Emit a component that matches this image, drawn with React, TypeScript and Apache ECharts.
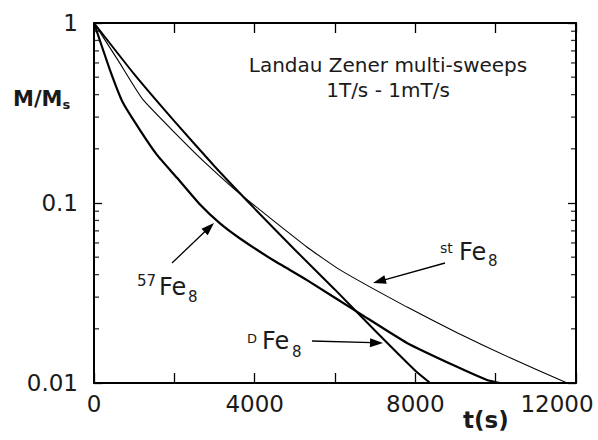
import React, { useEffect, useRef } from "react";
import * as echarts from "echarts";

// ---- data ----
const dTimes = [0, 1000, 2000, 3000, 4000, 5000, 6000, 7000, 8000, 8370];
const dValues = [1, 0.52, 0.285, 0.16, 0.093, 0.055, 0.033, 0.0195, 0.0117, 0.01];

const stTimes = [0, 600, 1220, 2640, 3560, 5300, 6125, 7795, 9040, 10360, 11780];
const stValues = [1, 0.62, 0.375, 0.178, 0.116, 0.057, 0.0425, 0.0264, 0.019, 0.0138, 0.01];

const fe57Times = [0, 398, 722, 1145, 1568, 2066, 2639, 3137, 3635, 4456, 5303, 6672, 7792, 9037, 9784, 10108];
const fe57Values = [1, 0.548, 0.36, 0.254, 0.185, 0.138, 0.098, 0.077, 0.0635, 0.0482, 0.0373, 0.0239, 0.0167, 0.0123, 0.0104, 0.01];

const xTickLabels = [0, 4000, 8000, 12000];
const minorTicks = [0.02, 0.03, 0.04, 0.05, 0.06, 0.07, 0.08, 0.09, 0.2, 0.3, 0.4, 0.5, 0.6, 0.7, 0.8, 0.9];

const FONT = '"DejaVu Sans", sans-serif';
const INK = "#1a1a1a";

function pairs(ts: number[], vs: number[]) {
  return ts.map((t, i) => [t, vs[i]]);
}

function arrow(x1: number, y1: number, x2: number, y2: number) {
  const dx = x2 - x1, dy = y2 - y1;
  const L = Math.hypot(dx, dy);
  const ux = dx / L, uy = dy / L;
  const hl = 13, hw = 4.5;
  const bx = x2 - ux * hl, by = y2 - uy * hl;
  return [
    { type: "line", shape: { x1, y1, x2: bx + ux * 2, y2: by + uy * 2 }, style: { stroke: "#000", lineWidth: 1.3 } },
    {
      type: "polygon",
      shape: { points: [[x2, y2], [bx - uy * hw, by + ux * hw], [bx + uy * hw, by - ux * hw]] },
      style: { fill: "#000" },
    },
  ];
}

function txt(text: string, x: number, y: number, size: number, weight: string = "normal", align: string = "left") {
  return {
    type: "text",
    x,
    y,
    style: { text, fontSize: size, fontFamily: FONT, fontWeight: weight, fill: INK, align, verticalAlign: "middle" },
  };
}

export default function App() {
  const ref = useRef<HTMLDivElement>(null);
  useEffect(() => {
    if (!ref.current) return;
    const chart = echarts.init(ref.current, null, { renderer: "svg" });
    const axisLine = { show: true, onZero: false, lineStyle: { color: "#000", width: 2 } };
    const xCommon = {
      type: "value",
      min: 0,
      max: 12000,
      interval: 2000,
      splitLine: { show: false },
      axisLine,
      axisTick: { show: true, inside: true, length: 10, lineStyle: { color: "#000", width: 1.3 } },
    };
    const yCommon = {
      type: "log",
      logBase: 10,
      min: 0.01,
      max: 1,
      splitLine: { show: false },
      axisLine,
      axisTick: { show: true, inside: true, length: 8, lineStyle: { color: "#000", width: 1.3 } },
    };
    const minorStyle = {
      type: "scatter",
      symbol: "rect",
      symbolSize: [5, 1.3],
      itemStyle: { color: "#000" },
      silent: true,
      clip: false,
      z: 5,
    };
    const lineCommon = {
      type: "line",
      showSymbol: false,
      smooth: 0.15,
    };
    chart.setOption({
      animation: false,
      backgroundColor: "#fff",
      grid: { left: 94, right: 22, top: 23, bottom: 57 },
      xAxis: [
        {
          ...xCommon,
          position: "bottom",
          axisLabel: {
            show: true,
            margin: 9,
            fontSize: 23,
            fontFamily: FONT,
            color: INK,
            formatter: (v: number) => {
              if (!xTickLabels.includes(v)) return "";
              return v === 12000 ? "{shift|" + v + "}" : String(v);
            },
            rich: { shift: { fontSize: 23, fontFamily: FONT, color: INK, padding: [0, 38, 0, 0] } },
          },
        },
        { ...xCommon, position: "top", axisLabel: { show: false } },
      ],
      yAxis: [
        {
          ...yCommon,
          position: "left",
          axisLabel: {
            show: true,
            margin: 16,
            fontSize: 23,
            fontFamily: FONT,
            color: INK,
            formatter: (v: number) => String(Number(v.toPrecision(3))),
          },
        },
        { ...yCommon, position: "right", axisLabel: { show: false } },
      ],
      series: [
        { ...lineCommon, name: "DFe8", data: pairs(dTimes, dValues), lineStyle: { color: "#000", width: 2 } },
        { ...lineCommon, name: "stFe8", data: pairs(stTimes, stValues), lineStyle: { color: "#000", width: 1.1 } },
        { ...lineCommon, name: "57Fe8", data: pairs(fe57Times, fe57Values), lineStyle: { color: "#000", width: 2.2 } },
        { ...minorStyle, data: minorTicks.map((v) => [0, v]), symbolOffset: [2.5, 0] },
        { ...minorStyle, data: minorTicks.map((v) => [12000, v]), symbolOffset: [-2.5, 0] },
      ],
      graphic: [
        txt("Landau Zener multi-sweeps", 388, 65, 20, "normal", "center"),
        txt("1T/s - 1mT/s", 388, 90, 20, "normal", "center"),
        {
          type: "text",
          x: 13,
          y: 99,
          style: {
            text: "{m|M/M}{s|s}",
            fontFamily: FONT,
            fill: INK,
            verticalAlign: "middle",
            rich: {
              m: { fontSize: 21, fontWeight: "bold", fontFamily: FONT, fill: INK },
              s: { fontSize: 13, fontWeight: "bold", fontFamily: FONT, fill: INK, padding: [10, 0, 0, 0] },
            },
          },
        },
        txt("t(s)", 463, 420, 23, "bold"),
        // 57Fe8 label
        txt("57", 137, 281, 15),
        txt("Fe", 159, 287, 24),
        txt("8", 188, 297, 15),
        ...arrow(172, 263, 214, 223),
        // DFe8 label
        txt("D", 247, 338, 13),
        txt("Fe", 262, 341, 24),
        txt("8", 292, 352, 15),
        ...arrow(312, 341, 383, 343),
        // stFe8 label
        txt("st", 440, 248, 14),
        txt("Fe", 459, 252, 24),
        txt("8", 488, 261, 15),
        ...arrow(445, 263, 373, 283),
      ],
    });
    return () => chart.dispose();
  }, []);
  return <div ref={ref} style={{ position: "fixed", left: 0, top: 0, width: 598, height: 440 }} />;
}
